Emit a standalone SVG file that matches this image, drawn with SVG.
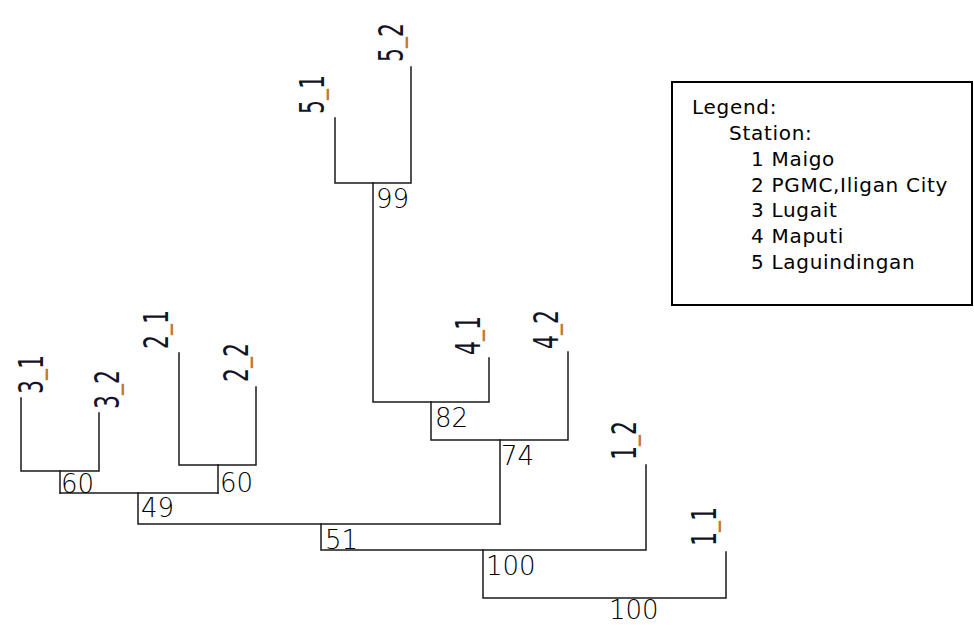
<svg xmlns="http://www.w3.org/2000/svg" width="974" height="625" viewBox="0 0 974 625">
<style>
.ln{stroke:#1a1a1a;stroke-width:1.5;fill:none;stroke-linecap:square}
.bs{font-family:"DejaVu Sans",Verdana,sans-serif;font-size:26px;font-weight:200;fill:#000}
.lf{font-family:"DejaVu Sans",Verdana,sans-serif;font-size:22px;fill:#141428}
.us{fill:#c07a30}
.lg{font-family:"DejaVu Sans",Verdana,sans-serif;font-size:20px;letter-spacing:0.7px;fill:#000}
</style>
<rect width="974" height="625" fill="#fff"/>
<g id="connectors" class="ln">
<path d="M21,398V471H99V413"/>
<path d="M60,471V493"/>
<path d="M179,353V465H256V387"/>
<path d="M218,465V493"/>
<path d="M60,493H218"/>
<path d="M138,493V524H500"/>
<path d="M335,118V183H411V67"/>
<path d="M373,183V402H489V358"/>
<path d="M431,402V440H568V352"/>
<path d="M500,440V524"/>
<path d="M321,524V550H646V465"/>
<path d="M483,550V598H726V552"/>
</g>
<g id="leaf-3_1"><text class="lf" transform="translate(43,394) rotate(-90) scale(1,1.5)">3<tspan class="us" dy="-2">_</tspan><tspan dy="2">1</tspan></text></g>
<g id="leaf-3_2"><text class="lf" transform="translate(119,409) rotate(-90) scale(1,1.5)">3<tspan class="us" dy="-2">_</tspan><tspan dy="2">2</tspan></text></g>
<g id="leaf-2_1"><text class="lf" transform="translate(168,349) rotate(-90) scale(1,1.5)">2<tspan class="us" dy="-2">_</tspan><tspan dy="2">1</tspan></text></g>
<g id="leaf-2_2"><text class="lf" transform="translate(248,382) rotate(-90) scale(1,1.5)">2<tspan class="us" dy="-2">_</tspan><tspan dy="2">2</tspan></text></g>
<g id="leaf-5_1"><text class="lf" transform="translate(324,114) rotate(-90) scale(1,1.5)">5<tspan class="us" dy="-2">_</tspan><tspan dy="2">1</tspan></text></g>
<g id="leaf-5_2"><text class="lf" transform="translate(403,62) rotate(-90) scale(1,1.5)">5<tspan class="us" dy="-2">_</tspan><tspan dy="2">2</tspan></text></g>
<g id="leaf-4_1"><text class="lf" transform="translate(480,355) rotate(-90) scale(1,1.5)">4<tspan class="us" dy="-2">_</tspan><tspan dy="2">1</tspan></text></g>
<g id="leaf-4_2"><text class="lf" transform="translate(558,349) rotate(-90) scale(1,1.5)">4<tspan class="us" dy="-2">_</tspan><tspan dy="2">2</tspan></text></g>
<g id="leaf-1_2"><text class="lf" transform="translate(636,460) rotate(-90) scale(1,1.5)">1<tspan class="us" dy="-2">_</tspan><tspan dy="2">2</tspan></text></g>
<g id="leaf-1_1"><text class="lf" transform="translate(716,546) rotate(-90) scale(1,1.5)">1<tspan class="us" dy="-2">_</tspan><tspan dy="2">1</tspan></text></g>
<g id="node-60a"><text class="bs" x="61" y="493">60</text></g>
<g id="node-60b"><text class="bs" x="220" y="492">60</text></g>
<g id="node-49"><text class="bs" x="141" y="517">49</text></g>
<g id="node-51"><text class="bs" x="325" y="549">51</text></g>
<g id="node-100a"><text class="bs" x="486" y="575">100</text></g>
<g id="node-100b"><text class="bs" x="609" y="619">100</text></g>
<g id="node-99"><text class="bs" x="376" y="208">99</text></g>
<g id="node-82"><text class="bs" x="435" y="427">82</text></g>
<g id="node-74"><text class="bs" x="501" y="465">74</text></g>
<g id="legend">
<rect x="672" y="82" width="300" height="223" fill="none" stroke="#000" stroke-width="2"/>
<text class="lg" x="692" y="114">Legend:</text>
<text class="lg" x="729" y="140">Station:</text>
<text class="lg" x="751" y="166">1 Maigo</text>
<text class="lg" x="751" y="192">2 PGMC,Iligan City</text>
<text class="lg" x="751" y="217">3 Lugait</text>
<text class="lg" x="751" y="243">4 Maputi</text>
<text class="lg" x="751" y="269">5 Laguindingan</text>
</g>
</svg>
